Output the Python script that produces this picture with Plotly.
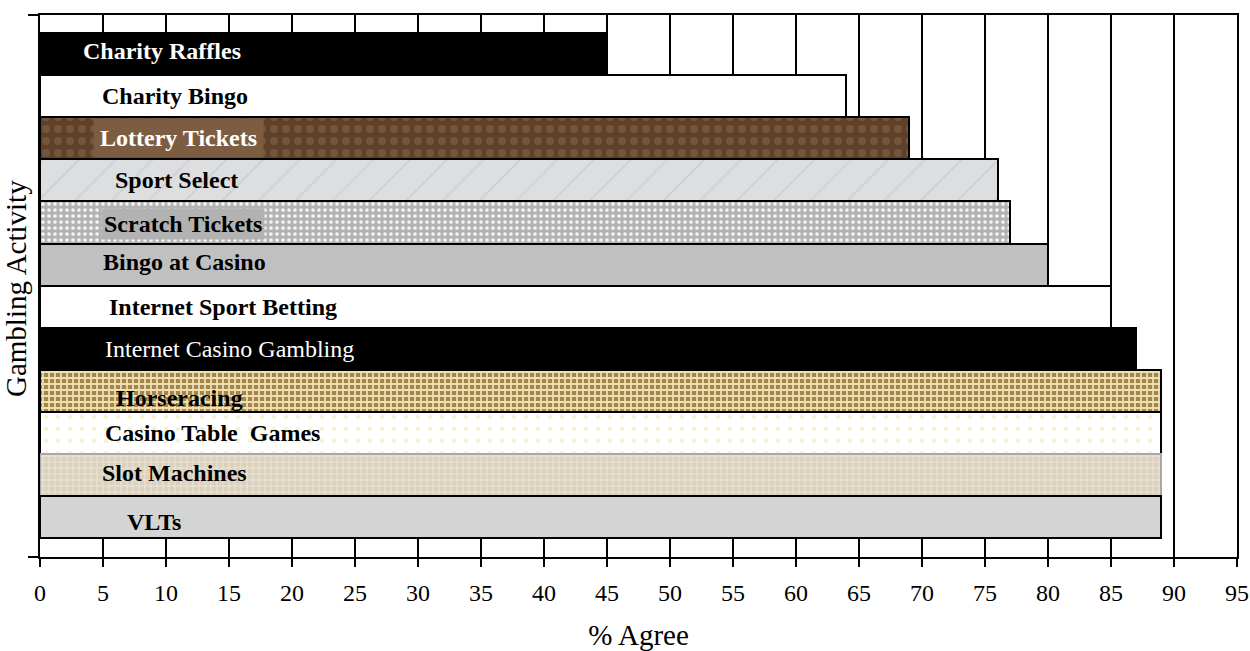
import plotly.graph_objects as go

categories = ["Charity Raffles", "Charity Bingo", "Lottery Tickets", "Sport Select",
              "Scratch Tickets", "Bingo at Casino", "Internet Sport Betting",
              "Internet Casino Gambling", "Horseracing", "Casino Table  Games",
              "Slot Machines", "VLTs"]
agree = [45, 64, 69, 76, 77, 80, 85, 87, 89, 89, 89, 89]
x_ticks = list(range(0, 100, 5))

# styles (per bar)
bar_bg = ["#000000", "#ffffff", "#5f412a", "#dcdee0", "#b2b2b2", "#c0c0c0",
          "#ffffff", "#000000", "#a4854d", "#ffffff", "#dbd1bc", "#d4d4d4"]
pat_shape = ["", "", ".", "/", ".", "", "", "", "+", ".", "+", ""]
pat_fg = ["#000000", "#000000", "#74563c", "#cfd2d6", "#f4f4f4", "#000000",
          "#000000", "#000000", "#efe0b2", "#f6f2d6", "#ece6d8", "#000000"]
pat_size = [8, 8, 12, 26, 6, 8, 8, 8, 6, 12, 6, 8]
pat_sol = [0.3, 0.3, 0.35, 0.08, 0.3, 0.3, 0.3, 0.3, 0.5, 0.12, 0.3, 0.3]
line_col = ["#000000"] * 10 + ["#a8a8a8", "#000000"]

label_x = [3.25, 4.76, 4.2, 5.8, 4.84, 4.84, 5.3, 5.0, 5.87, 5.0, 4.76, 6.75]
label_shift = [3, 0, 0, 0, -2, 3, 0, 0, -7, 0, 2, -5]
label_color = ["white", "black", "white", "black", "black", "black", "black",
               "white", "black", "black", "black", "black"]
label_weight = ["bold"] * 7 + ["normal"] + ["bold"] * 4
label_bg = [None, None, "#7c5d42", None, "#b2b2b2", None, None, None, None, None, None, None]
label_pad = [0, 0, 6, 0, 2, 0, 0, 0, 0, 0, 0, 0]

FONT = "Liberation Serif"

fig = go.Figure()
for i, cat in enumerate(categories):
    pat = dict(shape=pat_shape[i], fillmode="replace", bgcolor=bar_bg[i],
               fgcolor=pat_fg[i], size=pat_size[i], solidity=pat_sol[i])
    fig.add_trace(go.Bar(
        y=[cat], x=[agree[i]], orientation="h", width=1,
        marker=dict(color=bar_bg[i], line=dict(color=line_col[i], width=2), pattern=pat),
        hoverinfo="skip", showlegend=False,
    ))

for i, cat in enumerate(categories):
    ann = dict(
        x=label_x[i], y=cat, xref="x", yref="y", text=cat.replace("  ", "&nbsp; "),
        showarrow=False, xanchor="left", yanchor="middle", yshift=label_shift[i],
        font=dict(family=FONT, size=24, color=label_color[i], weight=label_weight[i]),
    )
    if label_bg[i]:
        ann["bgcolor"] = label_bg[i]
        ann["borderpad"] = label_pad[i]
    fig.add_annotation(**ann)

# y-axis title
fig.add_annotation(
    text="Gambling Activity", xref="paper", yref="paper", x=0, y=0.5,
    xanchor="center", yanchor="middle", xshift=-24, yshift=-3, textangle=-90,
    showarrow=False, font=dict(family=FONT, size=29, color="black"),
)

n = len(categories)
fig.update_layout(
    width=1250, height=651,
    margin=dict(l=40, r=13, t=15, b=94, autoexpand=False),
    paper_bgcolor="white", plot_bgcolor="white",
    barmode="overlay", bargap=0,
    font=dict(family=FONT, color="black"),
    xaxis=dict(
        range=[0, 95], tickvals=x_ticks, ticktext=[str(t) for t in x_ticks],
        ticks="outside", ticklen=8, tickwidth=2, tickcolor="black",
        ticklabelstandoff=5, ticklabeloverflow="allow",
        showline=True, linewidth=2, linecolor="black", mirror=True,
        showgrid=True, gridcolor="black", gridwidth=2, zeroline=False,
        tickfont=dict(family=FONT, size=24, color="black"),
        automargin=False,
        title=dict(text="% Agree", font=dict(family=FONT, size=29, color="black"), standoff=27),
    ),
    yaxis=dict(
        type="category", categoryorder="array", categoryarray=categories,
        range=[n - 1 + 0.95, -0.93],
        showticklabels=False, ticks="", showgrid=False, zeroline=False,
        showline=True, linewidth=2, linecolor="black", mirror=True,
        automargin=False,
    ),
    shapes=[
        dict(type="line", xref="paper", yref="paper", x0=-0.01, x1=0, y0=1, y1=1,
             line=dict(color="black", width=2)),
        dict(type="line", xref="paper", yref="paper", x0=-0.01, x1=0, y0=0, y1=0,
             line=dict(color="black", width=2)),
    ],
)

fig.write_html(
    "out.html",
    config={"displayModeBar": False},
    post_script="document.body.style.margin='0';document.body.style.overflow='hidden';",
)
